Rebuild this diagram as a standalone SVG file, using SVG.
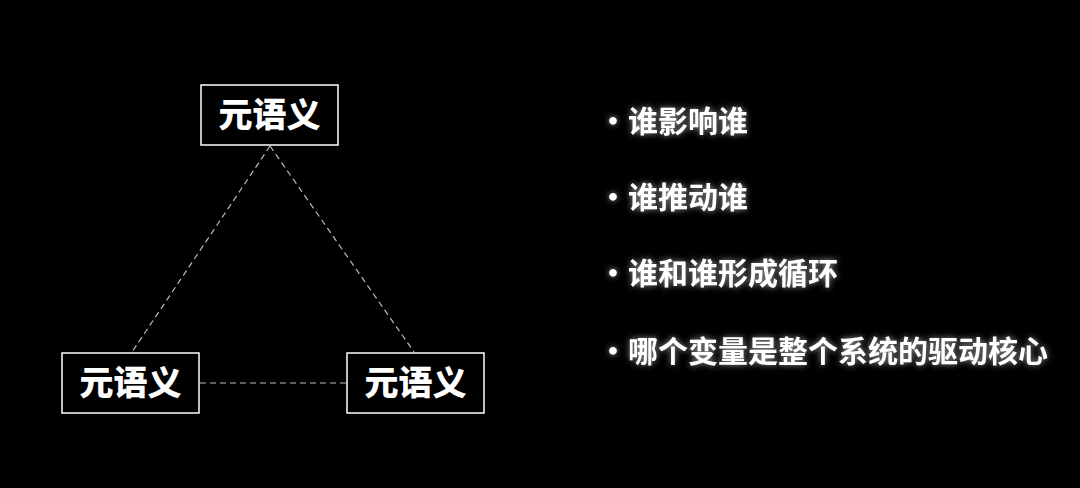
<svg xmlns="http://www.w3.org/2000/svg" width="1080" height="488" viewBox="0 0 1080 488">
<defs>
<style>
.box{fill:#000;stroke:#fff;stroke-width:1.5}
.bt{fill:#fff;font-family:"Noto Sans CJK SC",sans-serif;font-weight:900;font-size:34px;text-anchor:middle}
.li{fill:#fff;font-family:"Noto Sans CJK SC",sans-serif;font-weight:700;font-size:30px;filter:url(#glow)}
.c{stroke:#bbb;stroke-width:1.2;stroke-dasharray:6 4;fill:none}
</style>
<filter id="glow" x="-10%" y="-50%" width="120%" height="200%">
<feGaussianBlur in="SourceAlpha" stdDeviation="3" result="b"/>
<feFlood flood-color="#fff" flood-opacity="0.6"/>
<feComposite in2="b" operator="in" result="g"/>
<feMerge><feMergeNode in="g"/><feMergeNode in="SourceGraphic"/></feMerge>
</filter>
</defs>
<rect width="1080" height="488" fill="#000"/>
<g id="connectors">
<line class="c" x1="270" y1="146" x2="132" y2="352"/>
<line class="c" x1="270" y1="146" x2="414" y2="352"/>
<line class="c" x1="200" y1="383" x2="347" y2="383"/>
</g>
<g id="node-top"><rect class="box" x="201" y="85" width="137" height="60"/><text class="bt" x="269.5" y="127">元语义</text></g>
<g id="node-left"><rect class="box" x="62" y="353" width="137" height="60"/><text class="bt" x="130.5" y="395">元语义</text></g>
<g id="node-right"><rect class="box" x="347" y="353" width="137" height="60"/><text class="bt" x="415.5" y="395">元语义</text></g>
<g id="list">
<text class="li" x="598" y="132">•谁影响谁</text>
<text class="li" x="598" y="208">•谁推动谁</text>
<text class="li" x="598" y="284">•谁和谁形成循环</text>
<text class="li" x="598" y="362">•哪个变量是整个系统的驱动核心</text>
</g>
</svg>
